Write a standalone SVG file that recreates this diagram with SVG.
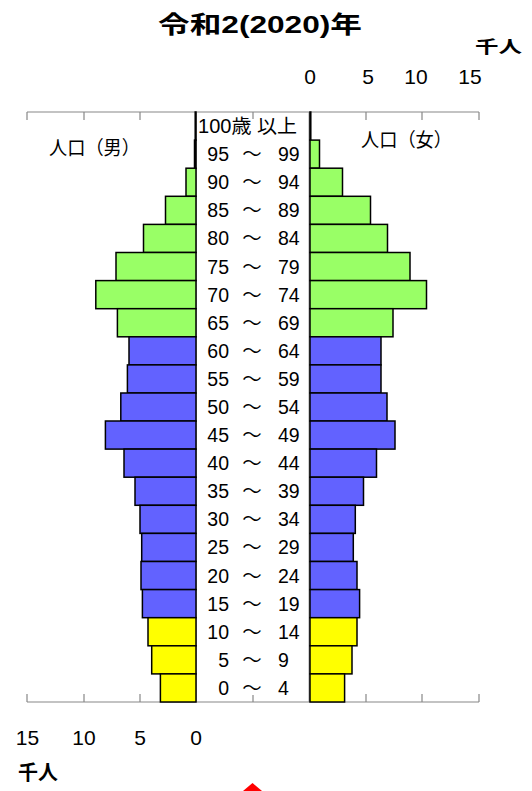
<svg xmlns="http://www.w3.org/2000/svg" width="532" height="791" viewBox="0 0 532 791">
<style>
text{font-family:"Liberation Sans","Noto Sans CJK JP",sans-serif;fill:#000}
.g{fill:#99FF66;stroke:#000;stroke-width:1.5}
.b{fill:#6262FF;stroke:#000;stroke-width:1.5}
.y{fill:#FFFF00;stroke:#000;stroke-width:1.5}
.ax{stroke:#888;stroke-width:1.2;fill:none}
.age{font-size:19.5px}
.n{font-size:21px}
.e{text-anchor:end}
.m{text-anchor:middle}
.lbl{font-size:19px}
.t{font-weight:bold}
</style>
<rect width="532" height="791" fill="#fff"/>
<g id="title"><text class="t" x="158" y="33" font-size="24" textLength="204" lengthAdjust="spacingAndGlyphs">令和2(2020)年</text></g>
<g id="unit-top"><text class="t" x="475" y="53" font-size="16.5" textLength="47" lengthAdjust="spacingAndGlyphs">千人</text></g>
<g id="unit-bottom"><text class="t" x="18" y="780" font-size="20">千人</text></g>
<g id="axis-top-labels" class="n m">
<text x="310" y="83.5">0</text><text x="368" y="83.5">5</text><text x="416" y="83.5">10</text><text x="470" y="83.5">15</text>
</g>
<g id="axis-bottom-labels" class="n m">
<text x="27.5" y="745">15</text><text x="84" y="745">10</text><text x="140" y="745">5</text><text x="196" y="745">0</text>
</g>
<g id="axes" class="ax">
<path d="M27,112H479M27,112v8M84,112v8M140,112v8M253,112v7M366,112v8M422,112v8M479,112v8"/>
<path d="M27,702H479M27,702v-8M84,702v-8M140,702v-8M253,702v-7M366,702v-8M422,702v-8M479,702v-8"/>
<path d="M196,112V702"/>
<path d="M309.5,112V702" stroke-width="1.8"/>
</g>
<g id="legend-male"><text class="lbl" x="49" y="154.5" textLength="91" lengthAdjust="spacingAndGlyphs">人口（男）</text></g>
<g id="legend-female"><text class="lbl" x="361" y="146.5" textLength="91" lengthAdjust="spacingAndGlyphs">人口（女）</text></g>
<g id="connectors"></g>
<g id="age-100"><rect class="g" x="195.2" y="112" width="0.8" height="28.1"/><rect class="g" x="310" y="112" width="0.8" height="28.1"/><text class="age" x="198" y="133" textLength="99" lengthAdjust="spacingAndGlyphs">100歳 以上</text></g>
<g id="age-95"><rect class="g" x="194.5" y="140.1" width="1.5" height="28.1"/><rect class="g" x="310" y="140.1" width="9.5" height="28.1"/><text class="age e" x="229" y="161.1">95</text><text class="age m" x="252" y="161.1">〜</text><text class="age" x="278" y="161.1">99</text></g>
<g id="age-90"><rect class="g" x="186" y="168.2" width="10" height="28.1"/><rect class="g" x="310" y="168.2" width="32.5" height="28.1"/><text class="age e" x="229" y="189.2">90</text><text class="age m" x="252" y="189.2">〜</text><text class="age" x="278" y="189.2">94</text></g>
<g id="age-85"><rect class="g" x="165.5" y="196.3" width="30.5" height="28.1"/><rect class="g" x="310" y="196.3" width="60.5" height="28.1"/><text class="age e" x="229" y="217.3">85</text><text class="age m" x="252" y="217.3">〜</text><text class="age" x="278" y="217.3">89</text></g>
<g id="age-80"><rect class="g" x="143.5" y="224.4" width="52.5" height="28.1"/><rect class="g" x="310" y="224.4" width="77.5" height="28.1"/><text class="age e" x="229" y="245.4">80</text><text class="age m" x="252" y="245.4">〜</text><text class="age" x="278" y="245.4">84</text></g>
<g id="age-75"><rect class="g" x="116" y="252.5" width="80" height="28.1"/><rect class="g" x="310" y="252.5" width="100" height="28.1"/><text class="age e" x="229" y="273.5">75</text><text class="age m" x="252" y="273.5">〜</text><text class="age" x="278" y="273.5">79</text></g>
<g id="age-70"><rect class="g" x="95.8" y="280.6" width="100.2" height="28.1"/><rect class="g" x="310" y="280.6" width="116.5" height="28.1"/><text class="age e" x="229" y="301.6">70</text><text class="age m" x="252" y="301.6">〜</text><text class="age" x="278" y="301.6">74</text></g>
<g id="age-65"><rect class="g" x="117.4" y="308.7" width="78.6" height="28.1"/><rect class="g" x="310" y="308.7" width="83" height="28.1"/><text class="age e" x="229" y="329.7">65</text><text class="age m" x="252" y="329.7">〜</text><text class="age" x="278" y="329.7">69</text></g>
<g id="age-60"><rect class="b" x="129" y="336.8" width="67" height="28.1"/><rect class="b" x="310" y="336.8" width="71" height="28.1"/><text class="age e" x="229" y="357.8">60</text><text class="age m" x="252" y="357.8">〜</text><text class="age" x="278" y="357.8">64</text></g>
<g id="age-55"><rect class="b" x="127.4" y="364.9" width="68.6" height="28.1"/><rect class="b" x="310" y="364.9" width="71" height="28.1"/><text class="age e" x="229" y="385.9">55</text><text class="age m" x="252" y="385.9">〜</text><text class="age" x="278" y="385.9">59</text></g>
<g id="age-50"><rect class="b" x="120.8" y="393" width="75.2" height="28.1"/><rect class="b" x="310" y="393" width="77" height="28.1"/><text class="age e" x="229" y="414">50</text><text class="age m" x="252" y="414">〜</text><text class="age" x="278" y="414">54</text></g>
<g id="age-45"><rect class="b" x="105.4" y="421" width="90.6" height="28.1"/><rect class="b" x="310" y="421" width="85" height="28.1"/><text class="age e" x="229" y="442">45</text><text class="age m" x="252" y="442">〜</text><text class="age" x="278" y="442">49</text></g>
<g id="age-40"><rect class="b" x="124" y="449.1" width="72" height="28.1"/><rect class="b" x="310" y="449.1" width="66.5" height="28.1"/><text class="age e" x="229" y="470.1">40</text><text class="age m" x="252" y="470.1">〜</text><text class="age" x="278" y="470.1">44</text></g>
<g id="age-35"><rect class="b" x="135" y="477.2" width="61" height="28.1"/><rect class="b" x="310" y="477.2" width="53.5" height="28.1"/><text class="age e" x="229" y="498.2">35</text><text class="age m" x="252" y="498.2">〜</text><text class="age" x="278" y="498.2">39</text></g>
<g id="age-30"><rect class="b" x="140" y="505.3" width="56" height="28.1"/><rect class="b" x="310" y="505.3" width="45.3" height="28.1"/><text class="age e" x="229" y="526.3">30</text><text class="age m" x="252" y="526.3">〜</text><text class="age" x="278" y="526.3">34</text></g>
<g id="age-25"><rect class="b" x="141.7" y="533.4" width="54.3" height="28.1"/><rect class="b" x="310" y="533.4" width="43.3" height="28.1"/><text class="age e" x="229" y="554.4">25</text><text class="age m" x="252" y="554.4">〜</text><text class="age" x="278" y="554.4">29</text></g>
<g id="age-20"><rect class="b" x="141" y="561.5" width="55" height="28.1"/><rect class="b" x="310" y="561.5" width="47" height="28.1"/><text class="age e" x="229" y="582.5">20</text><text class="age m" x="252" y="582.5">〜</text><text class="age" x="278" y="582.5">24</text></g>
<g id="age-15"><rect class="b" x="142.4" y="589.6" width="53.6" height="28.1"/><rect class="b" x="310" y="589.6" width="49.6" height="28.1"/><text class="age e" x="229" y="610.6">15</text><text class="age m" x="252" y="610.6">〜</text><text class="age" x="278" y="610.6">19</text></g>
<g id="age-10"><rect class="y" x="148" y="617.7" width="48" height="28.1"/><rect class="y" x="310" y="617.7" width="47" height="28.1"/><text class="age e" x="229" y="638.7">10</text><text class="age m" x="252" y="638.7">〜</text><text class="age" x="278" y="638.7">14</text></g>
<g id="age-5"><rect class="y" x="151.7" y="645.8" width="44.3" height="28.1"/><rect class="y" x="310" y="645.8" width="42" height="28.1"/><text class="age e" x="229" y="666.8">5</text><text class="age m" x="252" y="666.8">〜</text><text class="age" x="278" y="666.8">9</text></g>
<g id="age-0"><rect class="y" x="160.4" y="673.9" width="35.6" height="28.1"/><rect class="y" x="310" y="673.9" width="34.6" height="28.1"/><text class="age e" x="229" y="694.9">0</text><text class="age m" x="252" y="694.9">〜</text><text class="age" x="278" y="694.9">4</text></g>
<g id="red-marker"><polygon points="243,791 252.5,783 262,791" fill="#f00"/></g>
</svg>
